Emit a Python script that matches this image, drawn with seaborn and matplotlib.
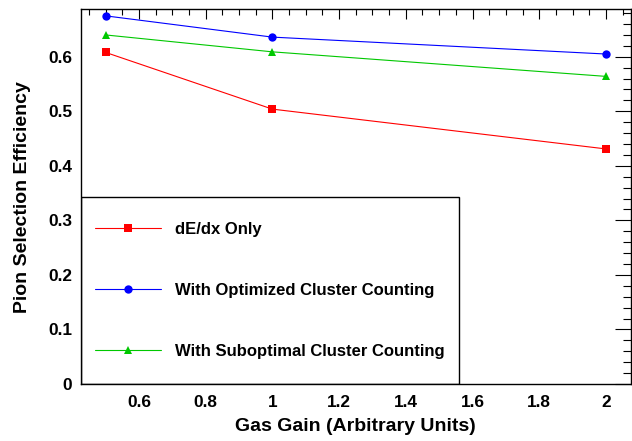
import matplotlib
matplotlib.use("Agg")
import matplotlib.pyplot as plt
from matplotlib.patches import Rectangle
from matplotlib.ticker import MultipleLocator, FixedLocator
import seaborn as sns
import pandas as pd

gas_gain = [0.5, 1.0, 2.0]
dedx_only = [0.608, 0.504, 0.431]
optimized = [0.675, 0.636, 0.605]
suboptimal = [0.640, 0.609, 0.564]
series_names = ["dE/dx Only", "With Optimized Cluster Counting", "With Suboptimal Cluster Counting"]
x_ticks = [0.6, 0.8, 1.0, 1.2, 1.4, 1.6, 1.8, 2.0]
x_tick_labels = ["0.6", "0.8", "1", "1.2", "1.4", "1.6", "1.8", "2"]
y_ticks = [0, 0.1, 0.2, 0.3, 0.4, 0.5, 0.6]
y_tick_labels = ["0", "0.1", "0.2", "0.3", "0.4", "0.5", "0.6"]

df = pd.DataFrame({
    "x": gas_gain * 3,
    "y": dedx_only + optimized + suboptimal,
    "series": [series_names[0]] * 3 + [series_names[1]] * 3 + [series_names[2]] * 3,
})

sns.set_style("white")
plt.rcParams["font.family"] = ["Liberation Sans", "DejaVu Sans"]
plt.rcParams["font.weight"] = "bold"
plt.rcParams["text.color"] = "black"
plt.rcParams["axes.labelcolor"] = "black"
plt.rcParams["xtick.color"] = "black"
plt.rcParams["ytick.color"] = "black"

fig = plt.figure(figsize=(6.32, 4.41), dpi=100)
ax = fig.add_axes([80.5 / 632, 1 - 384 / 441, (631 - 80.5) / 632, (384 - 9.3) / 441])

palette = {series_names[0]: "#ff0000", series_names[1]: "#0000ff", series_names[2]: "#00c800"}
markers = {series_names[0]: "s", series_names[1]: "o", series_names[2]: "^"}
sns.lineplot(data=df, x="x", y="y", hue="series", style="series", markers=markers,
             dashes=False, palette=palette, ax=ax, linewidth=0.8, markersize=6,
             markeredgewidth=0, legend=True)

ax.set_xlim(0.425, 2.075)
ax.set_ylim(0, 0.687)
ax.xaxis.set_major_locator(FixedLocator(x_ticks))
ax.set_xticklabels(x_tick_labels)
ax.xaxis.set_minor_locator(MultipleLocator(0.05))
ax.yaxis.set_major_locator(FixedLocator(y_ticks))
ax.set_yticklabels(y_tick_labels)
ax.yaxis.set_minor_locator(MultipleLocator(0.02))

ax.tick_params(axis="both", which="both", direction="in", top=True, right=True,
               color="black", labelcolor="black", width=0.8, labelsize=12.4)
ax.tick_params(axis="y", which="major", length=11.5, pad=6)
ax.tick_params(axis="y", which="minor", length=6)
ax.tick_params(axis="x", which="major", length=7.5, pad=8)
ax.tick_params(axis="x", which="minor", length=4)
for lab in ax.get_xticklabels() + ax.get_yticklabels():
    lab.set_fontweight("bold")
for sp in ax.spines.values():
    sp.set_color("black")
    sp.set_linewidth(1.0)

ax.set_xlabel("Gas Gain (Arbitrary Units)", fontsize=14, fontweight="bold", labelpad=6)
ax.set_ylabel("Pion Selection Efficiency", fontsize=14, fontweight="bold", labelpad=12)

# legend frame
frame = Rectangle((0, 0), (459 - 80.5) / 550.5, (384 - 196.7) / 374.7, transform=ax.transAxes,
                  fill=False, edgecolor="black", linewidth=1.0, zorder=1)
ax.add_patch(frame)

handles, labels = ax.get_legend_handles_labels()
leg = ax.legend(handles, labels, loc="center left",
                bbox_to_anchor=((95 - 80.5) / 550.5, (384 - 290.5) / 374.7),
                frameon=False, borderpad=0, borderaxespad=0,
                handlelength=3.95, handletextpad=0.84, labelspacing=2.78,
                prop={"weight": "bold", "size": 12})
for h in leg.legend_handles:
    h.set_linewidth(0.8)

fig.savefig("out.png", dpi=100)
